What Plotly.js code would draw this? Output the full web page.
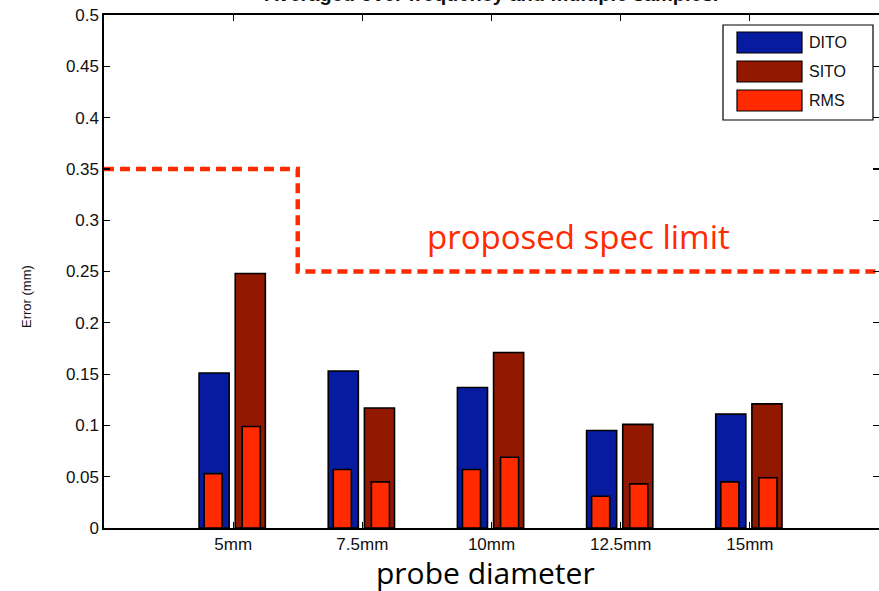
<!DOCTYPE html>
<html>
<head>
<meta charset="utf-8">
<script src="https://cdn.plot.ly/plotly-3.0.1.min.js"></script>
<style>html,body{margin:0;padding:0;background:#fff;}#chart{width:879px;height:591px;}</style>
</head>
<body>
<div id="chart"></div>
<script>
// ---- data ----
const categories = ["5mm", "7.5mm", "10mm", "12.5mm", "15mm"];
const positions = [1, 2, 3, 4, 5];
const dito = [0.151, 0.153, 0.137, 0.095, 0.111];
const sito = [0.248, 0.117, 0.171, 0.101, 0.121];
const rmsDito = [0.053, 0.057, 0.057, 0.031, 0.045];
const rmsSito = [0.099, 0.045, 0.069, 0.043, 0.049];
const specX = [0, 1.5, 6];
const specY = [0.35, 0.25, 0.25];
const seriesNames = ["DITO", "SITO", "RMS"];
const specLabel = "proposed spec limit";
const titleText = "Averaged over frequency and multiple samples.";
const xTitle = "probe diameter";
const yTitle = "Error (mm)";

// ---- styles ----
const colors = {DITO: "#061ba0", SITO: "#921800", RMS: "#ff2a00"};
const W = 879, H = 591;
const M = {l: 104, r: 0, t: 15, b: 63};
const pw = W - M.l - M.r, ph = H - M.t - M.b;
const px2x = p => (p - M.l) / pw;
const py2y = p => (H - M.b - p) / ph;
const sans = "Liberation Sans, Arial, sans-serif";
const wide = "Open Sans, Liberation Sans, Arial, sans-serif";

const edge = {color: "#000", width: 1.6};
const traces = [
  {type: "bar", name: "DITO", x: positions, y: dito, width: 0.233, offset: -0.264,
   marker: {color: colors.DITO, line: edge}, showlegend: false},
  {type: "bar", name: "SITO", x: positions, y: sito, width: 0.233, offset: 0.016,
   marker: {color: colors.SITO, line: edge}, showlegend: false},
  {type: "bar", name: "RMS", x: positions, y: rmsDito, width: 0.14, offset: -0.225,
   marker: {color: colors.RMS, line: edge}, showlegend: false},
  {type: "bar", name: "RMS", x: positions, y: rmsSito, width: 0.14, offset: 0.07,
   marker: {color: colors.RMS, line: edge}, showlegend: false},
  {type: "scatter", mode: "lines", x: specX, y: specY, name: "spec",
   line: {shape: "hv", color: "#ff2a00", width: 4.5, dash: "10px,6px"},
   showlegend: false, cliponaxis: false}
];

// custom legend (MATLAB-like wide swatches)
const shapes = [];
const annotations = [];
shapes.push({type: "rect", xref: "paper", yref: "paper",
  x0: px2x(723), x1: px2x(873), y0: py2y(120), y1: py2y(25),
  line: {color: "#000", width: 1.2}, fillcolor: "#fff"});
seriesNames.forEach((n, i) => {
  const top = 32 + i * 29;
  shapes.push({type: "rect", xref: "paper", yref: "paper",
    x0: px2x(737), x1: px2x(802), y0: py2y(top + 21), y1: py2y(top),
    line: {color: "#000", width: 1.2}, fillcolor: colors[n]});
  annotations.push({xref: "paper", yref: "paper", x: px2x(807), y: py2y(top + 10.5),
    xanchor: "left", yanchor: "middle", showarrow: false, text: n,
    font: {family: sans, size: 16, color: "#111"}});
});

annotations.push({xref: "x", yref: "y", x: 3.67, y: 0.284, showarrow: false,
  text: specLabel, xanchor: "center", yanchor: "middle",
  font: {family: wide, size: 33, color: "#ff2a00"}});
annotations.push({xref: "paper", yref: "paper", x: px2x(26), y: py2y(297),
  showarrow: false, text: yTitle, textangle: -90, xanchor: "center", yanchor: "middle",
  font: {family: sans, size: 13, color: "#111"}});
annotations.push({xref: "paper", yref: "paper", x: px2x(485), y: py2y(572),
  showarrow: false, text: xTitle, xanchor: "center", yanchor: "middle", borderpad: 0,
  font: {family: wide, size: 30, color: "#000"}});

const tickFont = {family: sans, size: 17, color: "#111"};
const layout = {
  width: W, height: H, margin: M,
  paper_bgcolor: "#fff", plot_bgcolor: "#fff",
  barmode: "overlay",
  title: {text: "<b>" + titleText + "</b>", xref: "paper", x: 0.5, xanchor: "center",
    yref: "container", y: 1 - 1 / H, yanchor: "bottom",
    font: {family: sans, size: 20, color: "#111"}},
  xaxis: {range: [0, 6], tickvals: positions, ticktext: categories,
    ticks: "inside", ticklen: 6, tickcolor: "#000", tickwidth: 1.2,
    showline: true, linecolor: "#000", linewidth: 1.6, mirror: "ticks",
    showgrid: false, zeroline: false, tickfont: tickFont, fixedrange: true},
  yaxis: {range: [0, 0.5], dtick: 0.05, tick0: 0,
    ticks: "inside", ticklen: 6, tickcolor: "#000", tickwidth: 1.2,
    showline: true, linecolor: "#000", linewidth: 1.6, mirror: "ticks",
    showgrid: false, zeroline: false, tickfont: tickFont, fixedrange: true},
  shapes: shapes, annotations: annotations, showlegend: false
};

Plotly.newPlot("chart", traces, layout, {displayModeBar: false, staticPlot: true});
</script>
</body>
</html>
